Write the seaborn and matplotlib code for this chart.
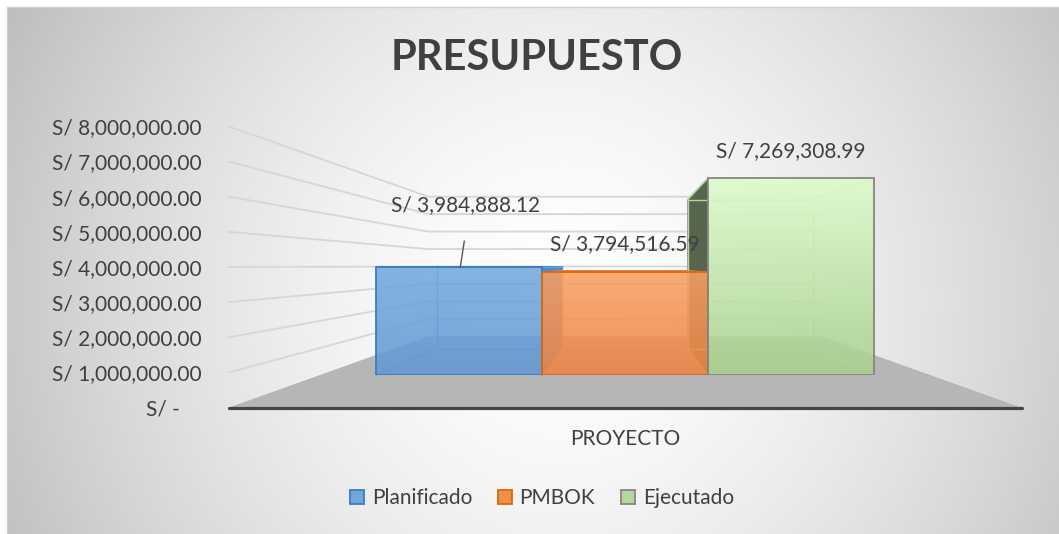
import numpy as np
import pandas as pd
import matplotlib
matplotlib.use('Agg')
import matplotlib.pyplot as plt
from matplotlib.patches import Polygon, Patch
from matplotlib.colors import to_rgb
from matplotlib.ticker import FuncFormatter
import seaborn as sns

# datos
categoria = ['PROYECTO']
series = ['Planificado', 'PMBOK', 'Ejecutado']
valores = [3984888.12, 3794516.59, 7269308.99]
ticks_y = [0, 1e6, 2e6, 3e6, 4e6, 5e6, 6e6, 7e6, 8e6]

# estilo
colores = ['#70A6DC', '#F2904A', '#B5D8A0']
bordes = ['#3A7BC1', '#D9690F', '#858585']
grad_arriba = ['#74AADF', '#FAA062', '#DCFCCB']
grad_abajo = ['#6398D3', '#EC8444', '#A9D08E']
lados = ['#4F8BC9', '#DE7A32', '#56654B']
lineas_int = ['#5E9ED8', '#F08A45', '#B3D6A2']
desplaz = [62, 28, 27]
gris_txt = '#404040'
fs = 15

plt.rcParams['font.family'] = ['Lato', 'DejaVu Sans']

W, H = 1059, 534
fig = plt.figure(figsize=(W / 100, H / 100), dpi=100)

# geometria de la perspectiva (pixeles)
V = (625, 266)
L, R, Y0, PXM = 320, 930, 375, 27.06
SF, SB, SD = 1.30, 0.645, 0.758


def proj(x, y, s):
    return (V[0] + s * (x - V[0]), V[1] + s * (y - V[1]))


def yfront(v):
    return Y0 - PXM * v / 1e6


# fondo
bg = fig.add_axes([0, 0, 1, 1])
yy, xx = np.mgrid[7:H, 7:W]
r = np.hypot(xx - 560, (yy - 300) * 1.0)
g = 255 - 55 * np.clip(r / 560, 0, 1.2) ** 1.6
img = np.dstack([g, g, g]) / 255
bg.imshow(np.clip(img, 0, 1), extent=(7, W, H, 7), aspect='auto', interpolation='bilinear')
bg.plot([7, 7, W], [H, 7, 7], color='#D0D0D0', lw=1)
bg.set_xlim(0, W)
bg.set_ylim(H, 0)
bg.axis('off')

# piso
piso = [proj(L, Y0, SF), proj(L, Y0, SB), proj(R, Y0, SB), proj(R, Y0, SF)]
bg.add_patch(Polygon(piso, closed=True, fc='#B6B6B6', ec='none'))
bg.plot([piso[0][0], piso[3][0]], [piso[0][1], piso[3][1]], color='#454545', lw=2.3,
        solid_capstyle='round')

# lineas de cuadricula
for v in ticks_y[1:]:
    a = proj(L, yfront(v), SF)
    b = proj(L, yfront(v), SB)
    c = proj(R, yfront(v), SB)
    bg.plot([a[0], b[0], c[0]], [a[1], b[1], c[1]], color='#D6D6D6', lw=1.3)

# eje de valores
yax = fig.add_axes([proj(L, 0, SF)[0] / W, 1 - proj(L, yfront(0), SF)[1] / H, 0.001,
                    (proj(L, yfront(0), SF)[1] - proj(L, yfront(8e6), SF)[1]) / H])
yax.set_ylim(0, 8e6)
yax.set_yticks(ticks_y)
yax.yaxis.set_major_formatter(FuncFormatter(
    lambda v, p: 'S/ -    ' if v == 0 else f'S/ {v:,.2f}'))
yax.tick_params(axis='y', length=0, pad=19.5, labelsize=fs, labelcolor=gris_txt)
yax.set_xticks([])
yax.patch.set_visible(False)
for sp in yax.spines.values():
    sp.set_visible(False)

# barras
ax = fig.add_axes([L / W, 1 - Y0 / H, (R - L) / W, PXM * 8 / H])
ax.set_zorder(2)
df = pd.DataFrame({'cat': categoria * len(series), 'serie': series, 'valor': valores})
sns.barplot(data=df, x='cat', y='valor', hue='serie', hue_order=series, palette=colores,
            saturation=1, width=0.815, ax=ax, legend=False)
ax.set_xlim(-0.5, 0.5)
ax.set_ylim(0, 8e6)
ax.patch.set_visible(False)
for sp in ax.spines.values():
    sp.set_visible(False)
ax.set_yticks([])
ax.set_xlabel('')
ax.set_ylabel('')
ax.tick_params(axis='x', length=0, pad=39, labelsize=fs, labelcolor=gris_txt)

pt = bg.transData
barras = sorted(ax.patches, key=lambda p: p.get_x())
for i, p in enumerate(barras):
    x0 = L + (p.get_x() + 0.5) * (R - L)
    x1 = x0 + p.get_width() * (R - L)
    yt = yfront(p.get_height())
    yb = Y0
    b00, b10 = proj(x0, yb, SD), proj(x1, yb, SD)
    b01, b11 = proj(x0, yt, SD), proj(x1, yt, SD)
    # caras laterales y superior
    if x1 < V[0]:
        ax.add_patch(Polygon([(x1, yt), (x1, yb), b10, b11], closed=True, fc=lados[i],
                             ec=bordes[i], lw=0.8, transform=pt, clip_on=False, zorder=1))
    if x0 > V[0]:
        ax.add_patch(Polygon([(x0, yt), (x0, yb), b00, b01], closed=True, fc=lados[i],
                             ec=bordes[i], lw=0.8, transform=pt, clip_on=False, zorder=1))
    if yt > V[1]:
        ax.add_patch(Polygon([(x0, yt), (x1, yt), b11, b01], closed=True, fc=lados[i],
                             ec=bordes[i], lw=0.8, transform=pt, clip_on=False, zorder=1))
    # aristas internas
    for a, b in [(b00, b10), (b00, b01), (b10, b11), (b01, b11),
                 ((x0, yb), b00), ((x1, yb), b10), ((x0, yt), b01), ((x1, yt), b11)]:
        ax.plot([a[0], b[0]], [a[1], b[1]], color=lineas_int[i], lw=1.0, transform=pt,
                clip_on=False, zorder=1.5)
    # degradado de la cara frontal
    c_top, c_bot = np.array(to_rgb(grad_arriba[i])), np.array(to_rgb(grad_abajo[i]))
    t = np.linspace(0, 1, 64)[:, None]
    grad = (c_top * (1 - t) + c_bot * t)[:, None, :]
    ax.imshow(grad, extent=(p.get_x(), p.get_x() + p.get_width(), 0, p.get_height()),
              aspect='auto', interpolation='bilinear', alpha=0.88, zorder=2)
    p.set_facecolor('none')
    p.set_edgecolor(bordes[i])
    p.set_linewidth(1.3)
    p.set_zorder(3)
    # etiqueta
    cx = (x0 + x1) / 2
    if i == 0:
        ax.plot([cx + 1, cx + 5], [yt, yt - 26], color='#595959', lw=1.0, transform=pt,
                clip_on=False, zorder=4)
        tx = cx + 6
    else:
        tx = cx
    ax.text(tx, yt - desplaz[i], f'S/ {valores[i]:,.2f}', transform=pt, ha='center',
            va='center', fontsize=fs, color=gris_txt, zorder=5, clip_on=False)

ax.set_xlim(-0.5, 0.5)
ax.set_ylim(0, 8e6)

# titulo
fig.text(537 / W, 1 - 58 / H, 'PRESUPUESTO', ha='center', va='center', fontsize=30,
         fontweight='bold', color=gris_txt)

# leyenda
handles = [Patch(facecolor=colores[i], edgecolor=bordes[i], linewidth=1.3) for i in range(3)]
fig.legend(handles, series, loc='center', bbox_to_anchor=(542 / W, 1 - 498 / H), ncol=3,
           frameon=False, fontsize=fs, handlelength=0.68, handleheight=0.68,
           handletextpad=0.35, columnspacing=1.25, labelcolor=gris_txt)

fig.savefig('out.png', dpi=100)
